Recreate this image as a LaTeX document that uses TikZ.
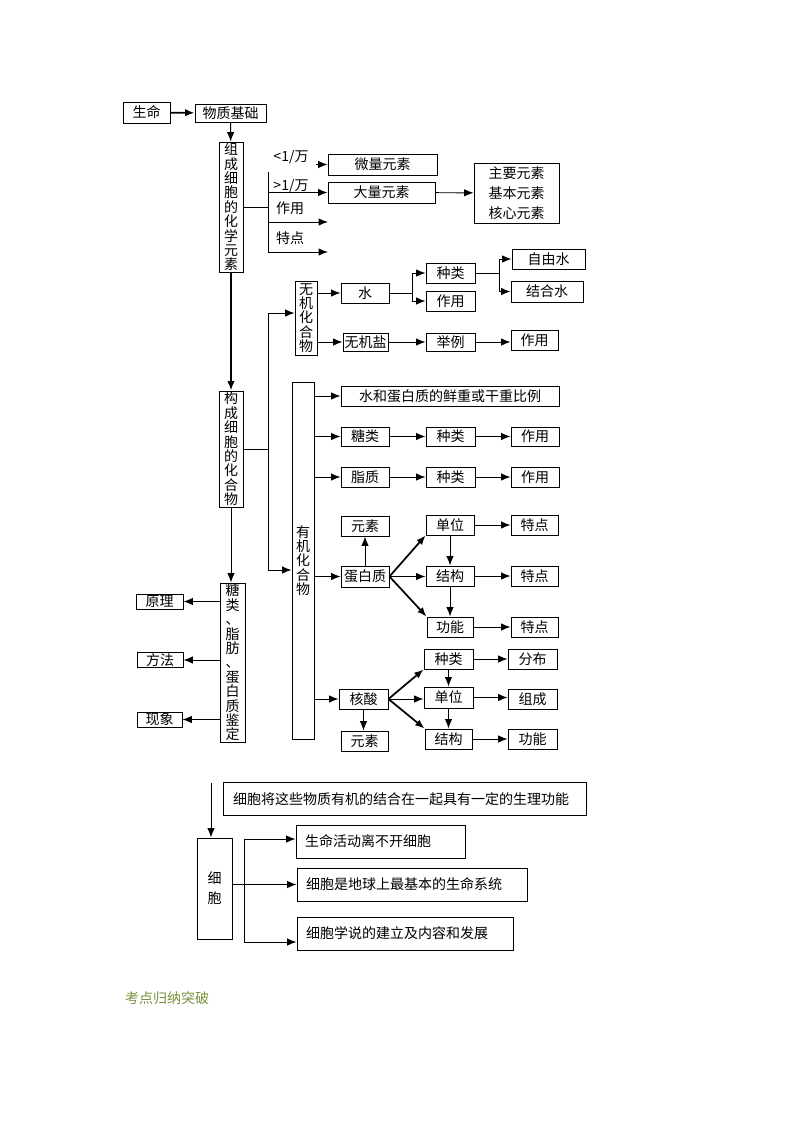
\documentclass[tikz,border=0pt]{standalone}
\usepackage{fontspec}
\newfontfamily\cjk{Noto Sans CJK SC}
\usetikzlibrary{arrows.meta}
\definecolor{titlegreen}{HTML}{76923C}
\tikzstyle{cbox}=[draw,inner sep=0pt,font=\cjk\fontsize{10.5}{12}\selectfont]
\tikzstyle{vbox}=[draw,inner sep=0pt,align=center,font=\cjk\fontsize{10.5}{10.8}\selectfont]
\tikzstyle{lbox}=[draw,inner ysep=0pt,inner xsep=6.75pt,align=left,minimum height=24.75pt,font=\cjk\fontsize{10.5}{12}\selectfont]
\tikzstyle{lbl}=[inner sep=0pt,font=\cjk\fontsize{10.5}{12}\selectfont]
\tikzstyle{link}=[-{Latex[length=7pt,width=5.5pt]}]
\tikzstyle{heavy}=[line width=1.3pt]
\tikzset{wh/.style 2 args={minimum width=#1*0.75pt,minimum height=#2*0.75pt}}

\begin{document}
\begin{tikzpicture}[x=0.75pt,y=-0.75pt,line width=0.7pt]
\useasboundingbox (0,0) rectangle (800,1132);

\node[cbox,wh={47}{21}] (life) at (146.5,112.5) {生命};
\node[cbox,wh={71}{18}] (basis) at (230.5,113) {物质基础};
\node[vbox,wh={24}{130}] (elem) at (231,207) {组\\成\\细\\胞\\的\\化\\学\\元\\素};
\node[cbox,wh={109}{21}] (micro) at (382.5,164.5) {微量元素};
\node[cbox,wh={107}{21}] (macro) at (381.5,192.5) {大量元素};
\node[draw,inner sep=0pt,align=center,wh={85}{60},font=\cjk\fontsize{10.5}{15}\selectfont] (major) at (516.5,193) {主要元素\\基本元素\\核心元素};
\node[lbl] (lt) at (291,157) {<1/万};
\node[lbl] (gt) at (291,186) {>1/万};
\node[lbl] (uselbl) at (290,208) {作用};
\node[lbl] (featlbl) at (290,238) {特点};

\node[vbox,wh={24}{116}] (comp) at (231,449) {构\\成\\细\\胞\\的\\化\\合\\物};
\node[vbox,wh={22}{74}] (inorg) at (306,318) {无\\机\\化\\合\\物};
\node[cbox,wh={48}{20}] (water) at (365,293) {水};
\node[cbox,wh={49}{20}] (wkind) at (450.5,273) {种类};
\node[cbox,wh={49}{20}] (wuse) at (450.5,301) {作用};
\node[cbox,wh={73}{20}] (free) at (548.5,259) {自由水};
\node[cbox,wh={72}{21}] (bound) at (547,291.5) {结合水};
\node[cbox,wh={45}{18}] (salt) at (365.5,342) {无机盐};
\node[cbox,wh={49}{18}] (eg) at (450.5,342) {举例};
\node[cbox,wh={47}{20}] (suse) at (534.5,340) {作用};

\node[vbox,wh={22}{357}] (org) at (303,560.5) {有\\机\\化\\合\\物};
\node[cbox,wh={218}{20}] (ratio) at (450,396) {水和蛋白质的鲜重或干重比例};
\node[cbox,wh={48}{19}] (sugar) at (365,436.5) {糖类};
\node[cbox,wh={49}{19}] (skind) at (450.5,436.5) {种类};
\node[cbox,wh={48}{19}] (suse2) at (535,436.5) {作用};
\node[cbox,wh={48}{20}] (lipid) at (365,477) {脂质};
\node[cbox,wh={49}{20}] (lkind) at (450.5,477) {种类};
\node[cbox,wh={48}{20}] (luse) at (535,477) {作用};

\node[cbox,wh={48}{20}] (pel) at (365,526) {元素};
\node[cbox,wh={48}{21}] (prot) at (365,576.5) {蛋白质};
\node[cbox,wh={48}{20}] (punit) at (450,525) {单位};
\node[cbox,wh={48}{20}] (pstru) at (450,576) {结构};
\node[cbox,wh={46}{20}] (pfunc) at (450,627) {功能};
\node[cbox,wh={47}{20}] (pf1) at (534.5,525) {特点};
\node[cbox,wh={47}{20}] (pf2) at (534.5,576) {特点};
\node[cbox,wh={47}{20}] (pf3) at (534.5,627) {特点};

\node[cbox,wh={49}{20}] (nucl) at (363.5,699) {核酸};
\node[cbox,wh={47}{20}] (nel) at (364.5,741) {元素};
\node[cbox,wh={49}{20}] (nkind) at (448.5,659) {种类};
\node[cbox,wh={49}{21}] (nunit) at (448.5,697.5) {单位};
\node[cbox,wh={47}{20}] (nstru) at (448.5,739) {结构};
\node[cbox,wh={49}{20}] (ndist) at (532.5,659) {分布};
\node[cbox,wh={49}{20}] (ncomp) at (532.5,699) {组成};
\node[cbox,wh={49}{20}] (nfunc) at (532.5,739) {功能};

\node[vbox,wh={25}{159}] (ident) at (232.5,662.5) {糖\\类\\、\\脂\\肪\\、\\蛋\\白\\质\\鉴\\定};
\node[cbox,wh={47}{15}] (prin) at (159.5,601.5) {原理};
\node[cbox,wh={46}{15}] (meth) at (160,660) {方法};
\node[cbox,wh={45}{15}] (phen) at (159.5,719.5) {现象};

\node[lbox,text width=257.25pt,inner xsep=7.5pt] (unite) at (404.5,799) {细胞将这些物质有机的结合在一起具有一定的生理功能};
\node[draw,inner sep=0pt,align=center,wh={35}{101},font=\cjk\fontsize{10.5}{15}\selectfont] (cell) at (214.5,888.5) {细\\胞};
\node[lbox,text width=113.25pt] (c1) at (380.5,841.5) {生命活动离不开细胞};
\node[lbox,text width=159pt] (c2) at (412,884.5) {细胞是地球上最基本的生命系统};
\node[lbox,text width=148.5pt] (c3) at (405,933.5) {细胞学说的建立及内容和发展};

\node[lbl,text=titlegreen] (title) at (167,998) {考点归纳突破};

\coordinate (ea) at (268,172);
\coordinate (use) at (328,222);
\coordinate (feat) at (328,252);
\coordinate (ltip) at (316,164.5);
\coordinate (ca) at (268,313);
\coordinate (cb) at (268,570);
\coordinate (wfork) at (412,0);
\coordinate (kfork) at (499,0);
\coordinate (cstart) at (211,783);
\coordinate (ctop) at (244,839);
\coordinate (cbot) at (244,942);

\draw[link,heavy] (life) -- (basis);
\draw[link] (basis) -- (elem);
\draw (elem.east) -- (elem.east -| ea);
\draw[link] (ea) |- (feat);
\draw[link] (ea |- use) -- (use);
\draw[link] (ea |- macro) -- (macro);
\draw[link] (ltip) -- (micro);
\draw[link] (macro) -- (major);

\draw[link,heavy] (elem) -- (comp);
\draw (comp.east) -- (comp.east -| ca);
\draw[link] (cb) -- (ca) -- (ca -| inorg.west);
\draw[link] (ca) -- (cb) -- (cb -| org.west);
\draw[link] (inorg.east |- water) -- (water);
\draw[link] (inorg.east |- salt) -- (salt);
\draw[link] (water) -- (wfork |- water) |- (wkind);
\draw[link] (wfork |- water) |- (wuse);
\draw[link] (wkind) -- (kfork |- wkind) |- (free);
\draw[link] (kfork |- wkind) |- (bound);
\draw[link] (salt) -- (eg);
\draw[link] (eg) -- (eg -| suse.west);

\draw[link] (org.east |- ratio) -- (ratio);
\draw[link] (org.east |- sugar) -- (sugar);
\draw[link] (org.east |- lipid) -- (lipid);
\draw[link] (org.east |- prot) -- (prot);
\draw[link] (org.east |- nucl) -- (nucl);
\draw[link] (sugar) -- (skind);
\draw[link] (skind) -- (suse2);
\draw[link] (lipid) -- (lkind);
\draw[link] (lkind) -- (luse);

\draw[link] (prot) -- (pel);
\draw[link,heavy] (prot.east) -- (punit.south west);
\draw[link] (prot) -- (prot -| pstru.west);
\draw[link,heavy] (prot.east) -- (pfunc.north west);
\draw[link] (punit) -- (pstru);
\draw[link] (pstru) -- (pfunc);
\draw[link] (punit) -- (pf1);
\draw[link] (pstru) -- (pf2);
\draw[link] (pfunc) -- (pf3);

\draw[link] (nucl) -- (nucl |- nel.north);
\draw[link,heavy] (nucl.east) -- (nkind.south west);
\draw[link] (nucl) -- (nucl -| nunit.west);
\draw[link,heavy] (nucl.east) -- (nstru.north west);
\draw[link] (nkind) -- (nunit);
\draw[link] (nunit) -- (nstru);
\draw[link] (nkind) -- (ndist);
\draw[link] (nunit) -- (nunit -| ncomp.west);
\draw[link] (nstru) -- (nfunc);

\draw[link] (comp.south) -- (comp.south |- ident.north);
\draw[link] (ident.west |- prin) -- (prin);
\draw[link] (ident.west |- meth) -- (meth);
\draw[link] (ident.west |- phen) -- (phen);

\draw[link] (cstart) -- (cstart |- cell.north);
\draw (cell.east |- c2) -- (ctop |- c2);
\draw (ctop) -- (cbot);
\draw[link] (ctop) -- (ctop -| c1.west);
\draw[link] (ctop |- c2) -- (c2);
\draw[link] (cbot) -- (cbot -| c3.west);
\end{tikzpicture}
\end{document}
